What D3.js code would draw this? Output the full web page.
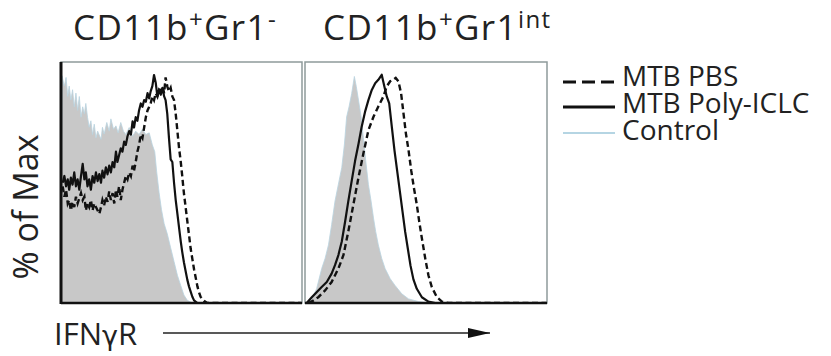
<!DOCTYPE html>
<html>
<head>
<meta charset="utf-8">
<script src="https://cdn.jsdelivr.net/npm/d3@7"></script>
<style>
  body { margin: 0; background: #fff; }
  svg { display: block; font-family: "Open Sans", sans-serif; }
</style>
</head>
<body>
<div id="chart"></div>
<script>
// panel headers, legend and axis text
const panelTitles = [
  { base: "CD11b", sup1: "+", mid: "Gr1", sup2: "-" },
  { base: "CD11b", sup1: "+", mid: "Gr1", sup2: "int" }
];
const seriesNames = ["MTB PBS", "MTB Poly-ICLC", "Control"];
const yLabel = "% of Max";
const xLabel = ["IFN", "γ", "R"];

// histograms: [channel (0-100), % of max]
// left panel, CD11b+Gr1-
const controlA = [[0,0],[0.4,94.3],[1.4,90.0],[2.1,93.6],[2.8,85.7],[3.4,90.0],[4.1,84.2],[4.8,88.5],[5.5,81.4],[6.2,87.1],[6.9,79.9],[7.6,85.7],[8.3,77.1],[9.0,81.4],[9.7,78.5],[10.3,82.8],[11.0,77.1],[11.7,72.9],[12.4,75.6],[13.1,69.9],[13.8,74.2],[14.5,68.5],[15.2,71.3],[16.6,67.9],[17.2,72.9],[17.9,70.1],[19.0,74.9],[20.0,71.3],[20.7,76.4],[21.8,72.1],[22.8,73.5],[23.7,70.6],[24.8,74.9],[25.9,71.3],[26.9,69.9],[28.3,72.8],[29.7,69.2],[31.0,71.3],[32.4,69.9],[33.8,72.1],[35.2,69.9],[36.6,70.6],[37.9,65.6],[38.9,62.8],[39.7,54.4],[40.7,45.8],[41.7,38.7],[42.8,32.9],[44.1,28.7],[45.5,22.9],[46.9,17.2],[48.3,11.5],[49.7,7.2],[51.0,3.3],[52.4,1.1],[54.5,0]];
const polyA = [[0.7,49.9],[1.4,52.7],[2.1,48.4],[2.8,51.3],[3.4,47.0],[4.1,52.0],[4.8,49.1],[5.5,54.2],[6.2,48.4],[6.9,51.3],[7.6,47.0],[8.3,52.7],[9.0,57.7],[9.7,51.3],[10.3,54.2],[11.0,48.4],[11.7,51.3],[12.4,47.0],[13.1,52.7],[13.8,49.9],[14.5,54.2],[15.2,50.6],[15.9,53.5],[16.6,49.9],[17.2,54.9],[17.9,52.0],[18.6,56.3],[19.3,53.4],[20.0,57.0],[20.7,54.2],[21.4,58.5],[22.1,56.3],[22.8,62.8],[23.4,58.5],[24.1,61.3],[24.8,64.2],[25.5,62.8],[26.2,67.0],[26.9,65.6],[27.6,69.2],[28.3,71.3],[29.0,69.9],[29.7,75.4],[30.3,72.8],[31.0,77.1],[31.7,75.6],[32.4,80.0],[33.1,82.8],[33.8,81.4],[34.5,84.2],[35.2,83.5],[35.9,87.1],[36.6,84.9],[37.2,87.8],[37.9,90.0],[38.6,94.6],[39.3,91.4],[40.0,85.7],[40.7,88.5],[41.4,86.4],[42.1,89.3],[42.8,85.7],[43.4,84.2],[44.1,78.5],[44.8,68.5],[45.5,59.6],[46.2,58.5],[46.9,49.9],[47.6,42.7],[48.3,37.0],[49.0,31.2],[49.7,25.5],[50.3,21.2],[51.0,16.9],[51.7,13.3],[52.4,9.7],[53.1,6.9],[53.8,4.7],[54.5,2.6],[55.2,1.1],[56.6,0],[100,0]];
const pbsA = [[0.7,48.4],[1.4,44.1],[2.1,47.0],[2.8,41.3],[3.4,42.7],[4.1,38.4],[4.8,42.0],[5.5,39.8],[6.2,44.1],[6.9,41.3],[8.3,45.6],[9.0,42.7],[9.7,44.1],[10.3,38.4],[11.0,41.3],[11.7,39.8],[12.4,42.7],[13.1,38.4],[13.8,41.3],[14.5,39.8],[15.2,38.4],[15.9,37.0],[16.6,39.8],[17.2,42.7],[17.9,40.5],[18.6,44.1],[19.3,42.0],[20.0,46.3],[20.7,42.7],[21.4,45.6],[22.1,41.3],[22.8,47.0],[23.4,44.1],[24.1,48.4],[24.8,42.7],[25.5,47.0],[26.2,49.9],[26.9,52.7],[27.6,51.3],[28.3,54.2],[29.0,52.7],[29.7,57.0],[30.3,54.9],[31.0,58.5],[31.7,62.8],[32.4,65.6],[33.1,69.9],[33.8,68.5],[34.5,72.8],[35.2,77.1],[35.9,79.9],[36.6,81.4],[37.2,82.8],[37.9,85.7],[38.6,84.2],[39.3,87.1],[40.0,85.7],[40.7,88.5],[41.4,87.8],[42.1,89.9],[42.8,87.1],[43.4,93.6],[44.1,89.9],[44.8,87.8],[45.5,89.3],[46.2,85.7],[46.9,84.2],[47.6,78.5],[48.3,71.3],[49.0,64.2],[49.7,58.5],[50.3,52.7],[51.0,45.6],[51.7,39.8],[52.4,34.1],[53.1,28.4],[53.8,22.6],[54.5,18.3],[55.2,14.0],[55.9,10.5],[56.6,6.9],[57.2,4.7],[57.9,2.6],[59.3,0.9],[60.7,0],[100,0]];

// right panel, CD11b+Gr1int
const controlB = [[0.7,0],[2.8,1.7],[4.8,5.9],[6.9,14.3],[8.3,18.5],[9.7,24.1],[11.0,32.5],[12.4,42.3],[13.8,49.3],[15.2,56.2],[16.3,66.0],[17.2,77.2],[18.2,81.4],[19.3,87.0],[20.4,94.0],[21.2,89.8],[22.1,84.2],[23.2,77.2],[24.1,68.8],[25.1,59.0],[26.2,49.2],[27.3,42.3],[28.3,35.3],[29.2,29.7],[30.3,24.1],[31.7,18.5],[33.1,14.3],[35.2,10.1],[37.2,7.3],[40.0,3.8],[42.8,1.7],[46.9,0.6],[51.0,0]];
const polyB = [[0.7,0],[2.8,2.4],[4.8,4.5],[6.9,6.6],[9.0,8.7],[11.0,12.2],[12.4,15.7],[13.8,19.9],[15.2,25.5],[16.6,33.9],[17.9,42.3],[19.3,50.7],[20.7,59.0],[22.1,66.0],[23.4,73.0],[24.8,79.3],[26.2,84.2],[27.6,88.4],[29.0,91.2],[30.3,92.6],[31.7,94.7],[32.8,89.8],[33.8,85.6],[34.8,82.8],[35.9,72.9],[37.0,63.1],[38.1,54.7],[39.2,46.3],[40.3,37.9],[41.4,29.5],[42.5,22.5],[43.6,15.5],[44.8,9.8],[46.2,5.9],[48.3,2.4],[51.0,0.6],[53.8,0],[100,0]];
const pbsB = [[1.4,0],[3.4,1.0],[5.5,2.4],[8.3,5.2],[11.0,8.7],[13.8,14.3],[15.9,19.9],[17.9,29.7],[20.0,40.9],[22.1,52.1],[24.1,61.9],[26.2,71.7],[28.3,77.3],[30.3,81.5],[32.4,85.7],[33.8,89.9],[35.2,92.0],[36.6,92.7],[37.5,93.4],[38.6,92.0],[39.7,87.1],[40.7,78.7],[41.7,70.3],[42.8,63.3],[43.9,54.9],[45.0,47.8],[46.2,40.8],[47.2,33.8],[48.3,26.8],[49.7,18.4],[51.0,11.5],[52.4,6.6],[54.5,2.4],[56.6,0.6],[59.3,0],[100,0]];

const width = 831;
const height = 356;

const panels = [
  { control: controlA, pbs: pbsA, poly: polyA, x0: 61, x1: 302 },
  { control: controlB, pbs: pbsB, poly: polyB, x0: 305, x1: 547 }
];

const y = d3.scaleLinear().domain([0, 100]).range([303, 62]);

const svg = d3.select("#chart")
  .append("svg")
  .attr("width", width)
  .attr("height", height)
  .attr("viewBox", [0, 0, width, height]);

const defs = svg.append("defs");

panels.forEach((p, i) => {
  const x = d3.scaleLinear().domain([0, 100]).range([p.x0, p.x1]);
  const g = svg.append("g");

  defs.append("clipPath")
    .attr("id", "clip" + i)
    .append("rect")
    .attr("x", p.x0).attr("y", y(100))
    .attr("width", p.x1 - p.x0).attr("height", y(0) - y(100));

  const plot = g.append("g").attr("clip-path", `url(#clip${i})`);

  const area = d3.area()
    .x(d => x(d[0]))
    .y0(y(0))
    .y1(d => y(d[1]));

  const line = d3.line()
    .x(d => x(d[0]))
    .y(d => y(d[1]));

  // isotype control, filled grey
  plot.append("path")
    .datum(p.control)
    .attr("d", area)
    .attr("fill", "#c8c8c8")
    .attr("stroke", "#b9d3df")
    .attr("stroke-width", 0.8);

  plot.append("path")
    .datum(p.poly)
    .attr("d", line)
    .attr("fill", "none")
    .attr("stroke", "#111")
    .attr("stroke-width", 2.2)
    .attr("stroke-linejoin", "round");

  plot.append("path")
    .datum(p.pbs)
    .attr("d", line)
    .attr("fill", "none")
    .attr("stroke", "#111")
    .attr("stroke-width", 2.4)
    .attr("stroke-dasharray", "6,3.5");

  // frame: thin grey top/right, black bottom (and black left on the first panel)
  g.append("rect")
    .attr("x", p.x0).attr("y", y(100))
    .attr("width", p.x1 - p.x0).attr("height", y(0) - y(100))
    .attr("fill", "none")
    .attr("stroke", "#8e9a9b")
    .attr("stroke-width", 1.5);

  g.append("line")
    .attr("x1", p.x0).attr("x2", p.x1)
    .attr("y1", y(0)).attr("y2", y(0))
    .attr("stroke", "#111")
    .attr("stroke-width", 2.5);

  if (i === 0) {
    g.append("line")
      .attr("x1", p.x0).attr("x2", p.x0)
      .attr("y1", y(100)).attr("y2", y(0) + 1)
      .attr("stroke", "#111")
      .attr("stroke-width", 3);
  }

  // header with superscripts
  const t = panelTitles[i];
  const title = svg.append("text")
    .attr("x", i === 0 ? 73 : 323)
    .attr("y", 40)
    .attr("font-size", 35)
    .attr("fill", "#222")
    .attr("letter-spacing", 1.4);
  title.append("tspan").text(t.base);
  title.append("tspan").attr("font-size", 24).attr("dy", -12).text(t.sup1);
  title.append("tspan").attr("dy", 12).text(t.mid);
  title.append("tspan").attr("font-size", 24).attr("dy", -12).text(t.sup2);
});

// y label
svg.append("text")
  .attr("transform", "translate(38,207) rotate(-90)")
  .attr("text-anchor", "middle")
  .attr("font-size", 34)
  .attr("fill", "#222")
  .text(yLabel);

// x label with arrow; gamma from DejaVu for a proper Greek shape
const xl = svg.append("text")
  .attr("x", 54)
  .attr("y", 345)
  .attr("font-size", 31)
  .attr("fill", "#222");
xl.append("tspan").text(xLabel[0]);
xl.append("tspan").attr("font-family", "DejaVu Sans").attr("font-size", 27).text(xLabel[1]);
xl.append("tspan").text(xLabel[2]);

defs.append("marker")
  .attr("id", "arrow")
  .attr("viewBox", "0 0 10 10")
  .attr("refX", 10).attr("refY", 5)
  .attr("markerWidth", 22).attr("markerHeight", 10)
  .attr("markerUnits", "userSpaceOnUse")
  .attr("preserveAspectRatio", "none")
  .append("path")
  .attr("d", "M0,0L10,5L0,10Z")
  .attr("fill", "#111");

svg.append("line")
  .attr("x1", 163).attr("x2", 490)
  .attr("y1", 333).attr("y2", 333)
  .attr("stroke", "#222")
  .attr("stroke-width", 1.4)
  .attr("marker-end", "url(#arrow)");

// legend
const legend = svg.append("g");
const legendY = [82, 107, 133];
const textY = [86, 113, 140];
const legendStyle = [
  { stroke: "#111", width: 3, dash: "13,6" },
  { stroke: "#111", width: 3, dash: null },
  { stroke: "#9cc7da", width: 1.5, dash: null }
];

seriesNames.forEach((name, i) => {
  legend.append("line")
    .attr("x1", 563).attr("x2", 615)
    .attr("y1", legendY[i]).attr("y2", legendY[i])
    .attr("stroke", legendStyle[i].stroke)
    .attr("stroke-width", legendStyle[i].width)
    .attr("stroke-dasharray", legendStyle[i].dash);
  legend.append("text")
    .attr("x", 622)
    .attr("y", textY[i])
    .attr("font-size", 28)
    .attr("fill", "#222")
    .text(name);
});
</script>
</body>
</html>
